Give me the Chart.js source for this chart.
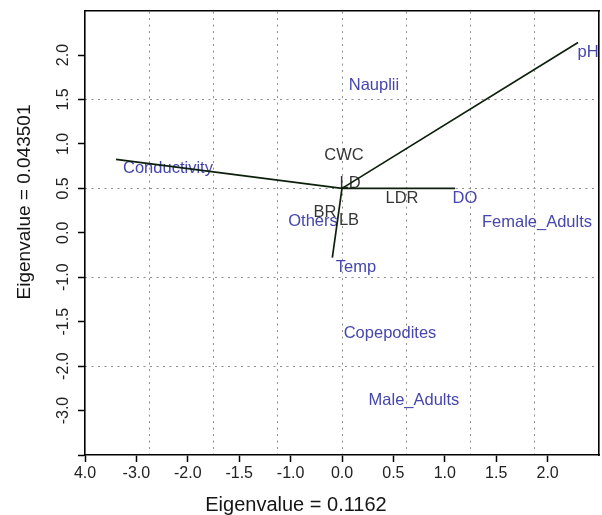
<!DOCTYPE html>
<html><head><meta charset="utf-8">
<script src="https://cdn.jsdelivr.net/npm/chart.js@4.4.1/dist/chart.umd.min.js"></script>
<style>html,body{margin:0;padding:0;background:#fff;}canvas{display:block;}</style>
</head><body>
<canvas id="c" width="602" height="515"></canvas>
<script>
// ---- data ----
const xTickValues = [-2.5, -2, -1.5, -1, -0.5, 0, 0.5, 1, 1.5, 2];
const xTickLabels = ['4.0', '-3.0', '-2.0', '-1.5', '-1.0', '0.0', '0.5', '1.0', '1.5', '2.0'];
const yTickValues = [1.5, 1, 0.5, 0, -0.5, -1, -1.5, -2, -2.5, -3];
const yTickLabels = ['2.0', '1.5', '1.0', '0.5', '0.0', '-1.0', '-1.5', '-2.0', '-3.0', ''];
const gridXValues = [-1.875, -1.25, -0.625, 0, 0.625, 1.25, 1.875];
const gridYValues = [1, 0, -1, -2];

const envNames = ['pH', 'Conductivity', 'DO', 'Temp'];
const envX = [2.296, -2.198, 1.099, -0.094];
const envY = [1.64, 0.326, 0.0, -0.779];

const blueNames = ['pH', 'Nauplii', 'Conductivity', 'DO', 'Female_Adults', 'Others', 'Temp', 'Copepodites', 'Male_Adults'];
const blueX = [2.393, 0.311, -1.693, 1.196, 1.897, -0.282, 0.136, 0.467, 0.70];
const blueY = [1.528, 1.157, 0.225, -0.112, -0.382, -0.371, -0.888, -1.629, -2.382];

const greyNames = ['CWC', 'LD', 'LDR', 'BR', 'LB'];
const greyX = [0.019, 0.078, 0.584, -0.165, 0.068];
const greyY = [0.371, 0.056, -0.112, -0.27, -0.36];

const xTitle = 'Eigenvalue = 0.1162';
const yTitle = 'Eigenvalue = 0.043501';

// ---- chart ----
const FONT = "'Liberation Sans', Arial, sans-serif";
const BLUE = '#4646ad';
const GREY = '#363636';
const LINE = '#0c200c';

const datasets = envNames.map((n, i) => ({
  label: n,
  data: [{x: 0, y: 0}, {x: envX[i], y: envY[i]}],
  showLine: true,
  borderColor: LINE,
  borderWidth: 1.7,
  pointRadius: 0,
  fill: false
}));

const textPlugin = {
  id: 'textLabels',
  beforeDatasetsDraw(chart) {
    const ctx = chart.ctx, xs = chart.scales.x, ys = chart.scales.y;
    ctx.save();
    ctx.font = '16.5px ' + FONT;
    ctx.textAlign = 'center';
    ctx.textBaseline = 'middle';
    ctx.fillStyle = BLUE;
    blueNames.forEach((n, i) => ctx.fillText(n, xs.getPixelForValue(blueX[i]), ys.getPixelForValue(blueY[i])));
    ctx.fillStyle = GREY;
    greyNames.forEach((n, i) => ctx.fillText(n, xs.getPixelForValue(greyX[i]), ys.getPixelForValue(greyY[i])));
    ctx.restore();
  },
  afterDraw(chart) {
    const ctx = chart.ctx;
    ctx.save();
    ctx.fillStyle = '#151515';
    ctx.textAlign = 'center';
    ctx.textBaseline = 'middle';
    ctx.font = '20px ' + FONT;
    ctx.fillText(xTitle, 296, 505);
    ctx.font = '19px ' + FONT;
    ctx.translate(25, 202);
    ctx.rotate(-Math.PI / 2);
    ctx.fillText(yTitle, 0, 0);
    ctx.restore();
  }
};

const dotted = {color: '#8c8c8c', lineWidth: 1};

new Chart(document.getElementById('c'), {
  type: 'scatter',
  data: {datasets},
  options: {
    responsive: false,
    animation: false,
    devicePixelRatio: 1,
    layout: {padding: {top: 10, right: 3, left: 0, bottom: 0}},
    plugins: {legend: {display: false}, tooltip: {enabled: false}},
    scales: {
      x: {
        type: 'linear', position: 'bottom', min: -2.5, max: 2.5,
        afterBuildTicks: s => { s.ticks = xTickValues.map(v => ({value: v})); },
        afterFit: s => { s.height = 60; },
        ticks: {
          callback: v => xTickLabels[xTickValues.indexOf(v)],
          font: {family: FONT, size: 16}, color: '#222', padding: 2,
          maxRotation: 0, minRotation: 0, autoSkip: false
        },
        grid: {drawOnChartArea: false, drawTicks: true, tickLength: 7, tickColor: '#000', tickWidth: 1.5, color: '#000'},
        border: {display: true, color: '#000', width: 1.6}
      },
      y: {
        type: 'linear', position: 'left', min: -3, max: 2,
        afterBuildTicks: s => { s.ticks = yTickValues.map(v => ({value: v})); },
        afterFit: s => { s.width = 85; },
        ticks: {
          callback: v => yTickLabels[yTickValues.indexOf(v)],
          font: {family: FONT, size: 16}, color: '#222', padding: 1,
          minRotation: 90, maxRotation: 90, crossAlign: 'center', autoSkip: false
        },
        grid: {drawOnChartArea: false, drawTicks: true, tickLength: 7, tickColor: '#000', tickWidth: 1.5, color: '#000'},
        border: {display: true, color: '#000', width: 1.6}
      },
      x2: {
        type: 'linear', position: 'top', min: -2.5, max: 2.5,
        afterBuildTicks: s => { s.ticks = gridXValues.map(v => ({value: v})); },
        afterFit: s => { s.height = 0; },
        ticks: {display: false},
        grid: Object.assign({drawOnChartArea: true, drawTicks: false}, dotted),
        border: {display: true, color: '#000', width: 1.6, dash: [2, 4.5]}
      },
      y2: {
        type: 'linear', position: 'right', min: -3, max: 2,
        afterBuildTicks: s => { s.ticks = gridYValues.map(v => ({value: v})); },
        afterFit: s => { s.width = 0; },
        ticks: {display: false},
        grid: Object.assign({drawOnChartArea: true, drawTicks: false}, dotted),
        border: {display: true, color: '#000', width: 1.6, dash: [2, 4.5]}
      }
    }
  },
  plugins: [textPlugin]
});
</script>
</body></html>
